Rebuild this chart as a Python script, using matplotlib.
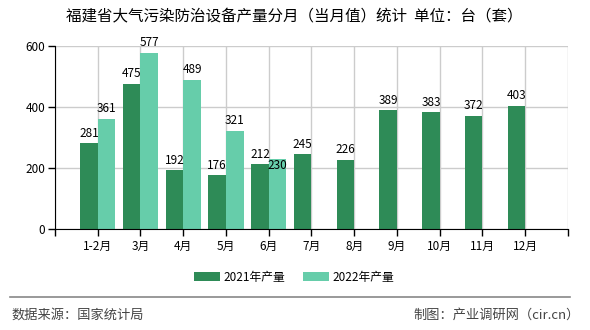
import numpy as np
import matplotlib
matplotlib.use("Agg")
import matplotlib.pyplot as plt

plt.rcParams['font.family'] = ['Noto Sans CJK SC', 'DejaVu Sans']

months = ['1-2月', '3月', '4月', '5月', '6月', '7月', '8月', '9月', '10月', '11月', '12月']
prod_2021 = [281, 475, 192, 176, 212, 245, 226, 389, 383, 372, 403]
prod_2022 = [361, 577, 489, 321, 230]

c21 = '#2E8B57'
c22 = '#66CDAA'

fig = plt.figure(figsize=(5.9, 3.3), dpi=100)
ax = fig.add_axes([0.0932, 0.306, 0.8695, 0.5545])

x = np.arange(1, len(months) + 1)
w = 0.41
ax.bar(x - w / 2, prod_2021, width=w, color=c21, label='2021年产量', zorder=3)
x22 = x[:len(prod_2022)]
ax.bar(x22 + w / 2, prod_2022, width=w, color=c22, label='2022年产量', zorder=3)

for xi, v in zip(x, prod_2021):
    ax.text(xi - w / 2, v + 12, str(v), ha='center', va='bottom', fontsize=8.5, zorder=4)
for xi, v in zip(x22, prod_2022):
    # the last label sits lower in the original to avoid overlapping
    if v == prod_2022[-1]:
        ax.text(xi + w / 2, v - 2, str(v), ha='center', va='top', fontsize=8.5, zorder=4)
    else:
        ax.text(xi + w / 2, v + 12, str(v), ha='center', va='bottom', fontsize=8.5, zorder=4)

ax.set_xlim(0, 12)
ax.set_ylim(0, 600)
ax.set_yticks([0, 200, 400, 600])
ax.set_xticks(np.arange(0, 13))
ax.set_xticklabels([''] + months + [''], fontsize=8.5)
ax.tick_params(axis='x', length=5, width=1, pad=3)
ax.tick_params(axis='y', length=5, width=1, labelsize=8.5, pad=2)

ax.grid(True, color='#cccccc', linewidth=1, zorder=0)
for s in ['top', 'right']:
    ax.spines[s].set_visible(False)
ax.spines['left'].set_color('black')
ax.spines['bottom'].set_color('black')
ax.spines['left'].set_zorder(5)
ax.spines['bottom'].set_zorder(5)

fig.text(0.498, 0.948, '福建省大气污染防治设备产量分月（当月值）统计  单位：台（套）',
         ha='center', va='center', fontsize=11.2)

fig.legend(loc='center', bbox_to_anchor=(0.498, 0.16), ncol=2, frameon=False,
           fontsize=8.5, handlelength=2.2, handleheight=0.8, columnspacing=1.5,
           handletextpad=0.3)

fig.add_artist(plt.Line2D([0.017, 0.966], [0.1, 0.1], color='#888888', linewidth=1.2))
fig.text(0.019, 0.045, '数据来源：国家统计局', ha='left', va='center', fontsize=9.5, color='#444444')
fig.text(0.983, 0.045, '制图：产业调研网（cir.cn）', ha='right', va='center', fontsize=9.5, color='#444444')

fig.savefig('out.png', dpi=100)
